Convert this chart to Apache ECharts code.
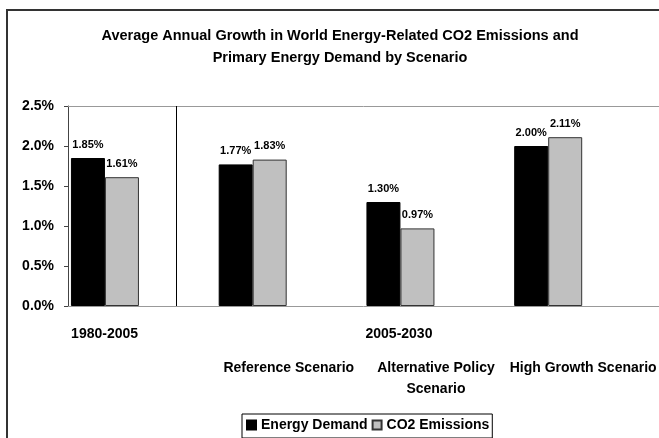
<!DOCTYPE html>
<html>
<head>
<meta charset="utf-8">
<title>Average Annual Growth in World Energy-Related CO2 Emissions and Primary Energy Demand by Scenario</title>
<script src="https://cdn.jsdelivr.net/npm/echarts@6/dist/echarts.min.js"></script>
<style>
  html, body { margin: 0; padding: 0; background: #ffffff; }
  #chart { width: 659px; height: 438px; }
</style>
</head>
<body>
<div id="chart"></div>
<script>
// Period and scenario labels for each bar group
const periods = ['1980-2005', '', '2005-2030', ''];
const scenarios = ['', 'Reference Scenario', 'Alternative Policy\nScenario', 'High Growth Scenario'];
const groupIndex = [0, 1, 2, 3];

// Average annual growth, % per year
const energyDemand = [1.85, 1.77, 1.30, 2.00];
const co2Emissions = [1.61, 1.83, 0.97, 2.11];

// Value axis ticks (%)
const yMin = 0;
const yMax = 2.5;
const yStep = 0.5;

const FONT = '"Liberation Sans", Arial, Helvetica, sans-serif';

const chart = echarts.init(document.getElementById('chart'), null, { renderer: 'canvas' });

const pctLabel = {
  show: true,
  position: 'top',
  distance: 8,
  color: '#000',
  fontFamily: FONT,
  fontWeight: 'bold',
  fontSize: 11,
  formatter: p => p.value[1].toFixed(2) + '%'
};

const hiddenAxisParts = {
  axisLine: { show: false },
  axisTick: { show: false },
  splitLine: { show: false }
};

const option = {
  animation: false,
  backgroundColor: '#ffffff',
  textStyle: { fontFamily: FONT },
  title: {
    text: 'Average Annual Growth in World Energy-Related CO2 Emissions and\nPrimary Energy Demand by Scenario',
    left: 335,
    top: 20,
    textAlign: 'center',
    textStyle: {
      fontFamily: FONT,
      fontWeight: 'bold',
      fontSize: 14.5,
      lineHeight: 22,
      color: '#000'
    }
  },
  graphic: [{
    type: 'rect',
    shape: { x: 7, y: 10, width: 700, height: 500 },
    style: { fill: 'none', stroke: '#333', lineWidth: 2 },
    silent: true
  }],
  legend: {
    data: ['Energy Demand', 'CO2 Emissions'],
    left: 242,
    top: 414,
    icon: 'rect',
    itemWidth: 9,
    itemHeight: 9,
    itemGap: 4,
    padding: [4, 3, 6, 4],
    borderColor: '#000',
    borderWidth: 1,
    textStyle: { fontFamily: FONT, fontWeight: 'bold', fontSize: 14, color: '#000' }
  },
  grid: [
    { left: 68, top: 106, width: 594, height: 200, containLabel: false },
    { left: 31, top: 106, width: 594, height: 200, containLabel: false }
  ],
  xAxis: [
    {
      type: 'value', gridIndex: 0, position: 'bottom', min: -0.25, max: 3.75,
      axisLine: { show: true, onZero: false, lineStyle: { color: '#999', width: 1 } },
      axisTick: { show: false }, axisLabel: { show: false }, splitLine: { show: false }
    },
    {
      type: 'value', gridIndex: 0, position: 'top', min: -0.25, max: 3.75,
      axisLine: { show: true, onZero: false, lineStyle: { color: '#999', width: 1 } },
      axisTick: { show: false }, axisLabel: { show: false }, splitLine: { show: false }
    },
    Object.assign({
      type: 'category', gridIndex: 1, position: 'bottom', data: periods,
      axisLabel: {
        interval: 0, margin: 21, color: '#000',
        fontFamily: FONT, fontWeight: 'bold', fontSize: 14
      }
    }, hiddenAxisParts),
    Object.assign({
      type: 'category', gridIndex: 1, position: 'bottom', data: scenarios,
      axisLabel: {
        interval: 0, margin: 52, color: '#000', lineHeight: 21,
        padding: [0, 0, 0, 74],
        fontFamily: FONT, fontWeight: 'bold', fontSize: 14
      }
    }, hiddenAxisParts)
  ],
  yAxis: [
    {
      type: 'value', gridIndex: 0, min: yMin, max: yMax, interval: yStep,
      axisLine: { show: true, onZero: false, lineStyle: { color: '#444', width: 1 } },
      axisTick: { show: true, length: 4, lineStyle: { color: '#444' } },
      splitLine: { show: false },
      axisLabel: {
        margin: 14, color: '#000',
        fontFamily: FONT, fontWeight: 'bold', fontSize: 14,
        formatter: v => v.toFixed(1) + '%'
      }
    },
    {
      type: 'value', gridIndex: 1, min: yMin, max: yMax, show: false
    }
  ],
  series: [
    {
      name: 'Energy Demand',
      type: 'bar',
      xAxisIndex: 0, yAxisIndex: 0,
      barWidth: 34,
      barGap: '0%',
      data: groupIndex.map((x, i) => [x, energyDemand[i]]),
      itemStyle: { color: '#000000', borderColor: '#000000', borderWidth: 1 },
      label: pctLabel
    },
    {
      name: 'CO2 Emissions',
      type: 'bar',
      xAxisIndex: 0, yAxisIndex: 0,
      barWidth: 34,
      barGap: '0%',
      data: groupIndex.map((x, i) => [x, co2Emissions[i]]),
      itemStyle: { color: '#c0c0c0', borderColor: '#333333', borderWidth: 1 },
      label: pctLabel
    },
    {
      // Vertical rule separating the historical period from the projections
      name: 'period divider',
      type: 'line',
      xAxisIndex: 0, yAxisIndex: 0,
      data: [],
      silent: true,
      markLine: {
        silent: true,
        symbol: ['none', 'none'],
        label: { show: false },
        lineStyle: { color: '#000', type: 'solid', width: 1 },
        data: [{ xAxis: 0.48 }]
      }
    }
  ]
};

chart.setOption(option);
</script>
</body>
</html>
